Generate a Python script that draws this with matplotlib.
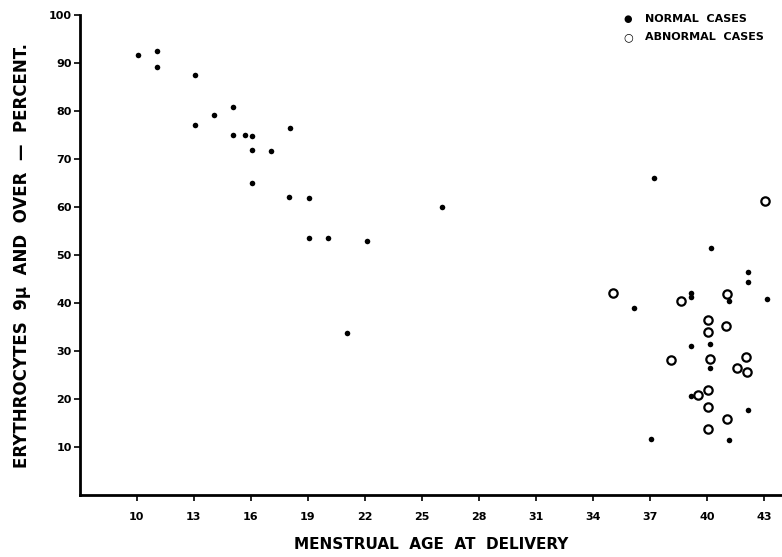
import matplotlib.pyplot as plt
import numpy as np

# Normal cases (filled dots)
normal_age = [10.07, 11.09, 11.09, 13.09, 15.07, 14.05, 13.05, 18.09, 15.07, 15.68,
              16.07, 16.07, 17.09, 16.07, 18.04, 19.05, 19.05, 20.07, 22.1, 26.07,
              21.09, 37.2, 40.2, 42.17, 42.17, 39.19, 39.19, 41.16, 43.17, 36.16,
              39.16, 40.17, 40.17, 39.16, 42.17, 37.07, 41.16]
normal_pct = [91.7, 92.5, 89.2, 87.6, 80.9, 79.1, 77.1, 76.5, 74.9, 74.9,
              74.8, 71.9, 71.6, 65.0, 62.1, 61.9, 53.6, 53.5, 52.9, 60.1,
              33.7, 66.0, 51.5, 46.4, 44.3, 42.1, 41.2, 40.5, 40.8, 38.9,
              31.0, 31.5, 26.5, 20.6, 17.7, 11.7, 11.5]

# Abnormal cases (open circles)
abnormal_age = [43.07, 35.09, 38.67, 41.09, 40.05, 40.09, 41.0, 38.1, 40.17, 42.07,
                41.6, 42.1, 40.07, 39.56, 40.07, 41.05, 40.07]
abnormal_pct = [61.3, 42.1, 40.4, 41.8, 36.4, 34.0, 35.3, 28.1, 28.3, 28.8,
                26.5, 25.6, 21.8, 20.9, 18.3, 15.8, 13.75]

x_ticks = [10, 13, 16, 19, 22, 25, 28, 31, 34, 37, 40, 43]
y_ticks = [10, 20, 30, 40, 50, 60, 70, 80, 90, 100]

plt.rcParams['font.family'] = ['DejaVu Sans']

fig = plt.figure(figsize=(7.82, 5.57), dpi=100)
ax = fig.add_axes([80 / 782, 1 - 495 / 557, 1 - 80 / 782, 480 / 557])

ax.plot(normal_age, normal_pct, 'o', color='black', markersize=4, markeredgewidth=0)
ax.plot(abnormal_age, abnormal_pct, 'o', markerfacecolor='white', markeredgecolor='black',
        markersize=6, markeredgewidth=1.6)

ax.set_xlim(7.016, 43.96)
ax.set_ylim(0, 100)
ax.set_xticks(x_ticks)
ax.set_yticks(y_ticks)
ax.set_xticklabels([str(t) for t in x_ticks], fontsize=8, fontweight='bold')
ax.set_yticklabels([str(t) for t in y_ticks], fontsize=8, fontweight='bold')
ax.tick_params(axis='both', direction='out', length=4, width=1.2, color='black')
ax.tick_params(axis='x', pad=8)
ax.tick_params(axis='y', pad=2)

for side in ['top', 'right']:
    ax.spines[side].set_visible(False)
for side in ['left', 'bottom']:
    ax.spines[side].set_linewidth(2)

ax.set_xlabel('MENSTRUAL  AGE  AT  DELIVERY', fontsize=11, fontweight='bold', labelpad=11)
ax.set_ylabel('ERYTHROCYTES  9\u03bc  AND  OVER  \u2014  PERCENT.', fontsize=12,
              fontweight='bold', labelpad=13)

# legend
fig.text(628 / 782, 1 - 19 / 557, '\u25cf', fontsize=7, ha='center', va='center')
fig.text(628 / 782, 1 - 37 / 557, '\u25cb', fontsize=8, ha='center', va='center',
         fontweight='bold')
fig.text(645 / 782, 1 - 19 / 557, 'NORMAL  CASES', fontsize=8, fontweight='bold',
         ha='left', va='center')
fig.text(645 / 782, 1 - 37 / 557, 'ABNORMAL  CASES', fontsize=8, fontweight='bold',
         ha='left', va='center')

fig.savefig('out.png', dpi=100)
